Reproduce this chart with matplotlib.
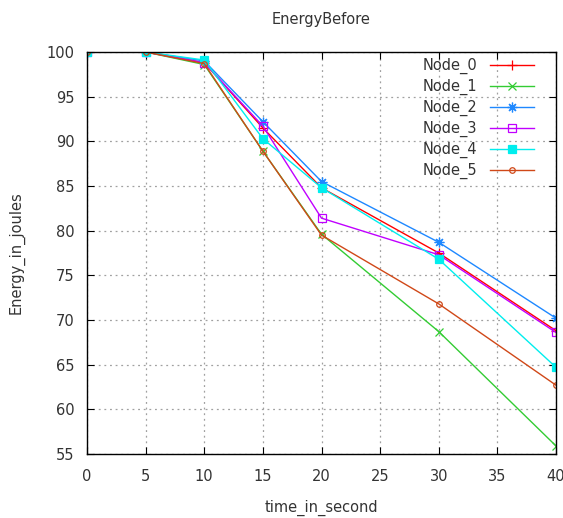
import matplotlib
matplotlib.use("Agg")
import matplotlib.pyplot as plt

# time axis and energy of each node
time_s = [0, 5, 10, 15, 20, 30, 40]
node_0 = [100, 100, 98.8, 91.5, 84.8, 77.5, 68.8]
node_1 = [100, 100, 98.6, 88.9, 79.6, 68.7, 55.9]
node_2 = [100, 100, 99.0, 92.2, 85.5, 78.7, 70.2]
node_3 = [100, 100, 98.8, 91.7, 81.4, 77.3, 68.6]
node_4 = [100, 100, 99.1, 90.3, 84.8, 76.8, 64.7]
node_5 = [100, 100, 98.7, 88.9, 79.5, 71.8, 62.7]

names = ["Node_0", "Node_1", "Node_2", "Node_3", "Node_4", "Node_5"]
series = [node_0, node_1, node_2, node_3, node_4, node_5]

# gnuplot style colours and point types
colors = ["#ff0000", "#33cc33", "#1e88ff", "#c000ff", "#00eeee", "#d04818"]
markers = ["+", "x", (8, 2, 0), "s", "s", "o"]
fills = ["full", "full", "full", "none", "full", "none"]
msizes = [7, 5.5, 7, 6, 6, 4]

txt = "#333333"
plt.rcParams["font.family"] = ["DejaVu Sans"]

fig = plt.figure(figsize=(5.63, 5.18), dpi=100)
ax = fig.add_axes([0.1545, 0.1236, 0.8331, 0.776])

for name, vals, c, m, f, ms in zip(names, series, colors, markers, fills, msizes):
    ax.plot(time_s, vals, color=c, lw=1.0, marker=m, fillstyle=f,
            markersize=ms, markeredgewidth=0.9, label=name)

ax.set_xlim(0, 40)
ax.set_ylim(55, 100)
ax.set_xticks(range(0, 41, 5))
ax.set_yticks(range(55, 101, 5))
ax.grid(True, color="#a0a0a0", linestyle=(0, (1.5, 3)), linewidth=0.9)
ax.tick_params(direction="in", top=True, right=True, length=5,
               labelsize=10.5, labelcolor=txt)
ax.tick_params(axis="x", pad=11)
ax.tick_params(axis="y", pad=9)
for sp in ax.spines.values():
    sp.set_linewidth(1.0)

ax.set_title("EnergyBefore", fontsize=10.5, color=txt, pad=20)
ax.set_xlabel("time_in_second", fontsize=10.5, color=txt, labelpad=11)
ax.set_ylabel("Energy_in_joules", fontsize=10.5, color=txt, labelpad=16)

leg = ax.legend(loc="upper right", bbox_to_anchor=(0.975, 1.01), frameon=False,
                markerfirst=False, fontsize=10.5, handlelength=3.0,
                labelspacing=0.33, borderaxespad=0.3, handletextpad=0.9)
for t in leg.get_texts():
    t.set_color(txt)
    t.set_ha("right")

fig.savefig("out.png", dpi=100)
